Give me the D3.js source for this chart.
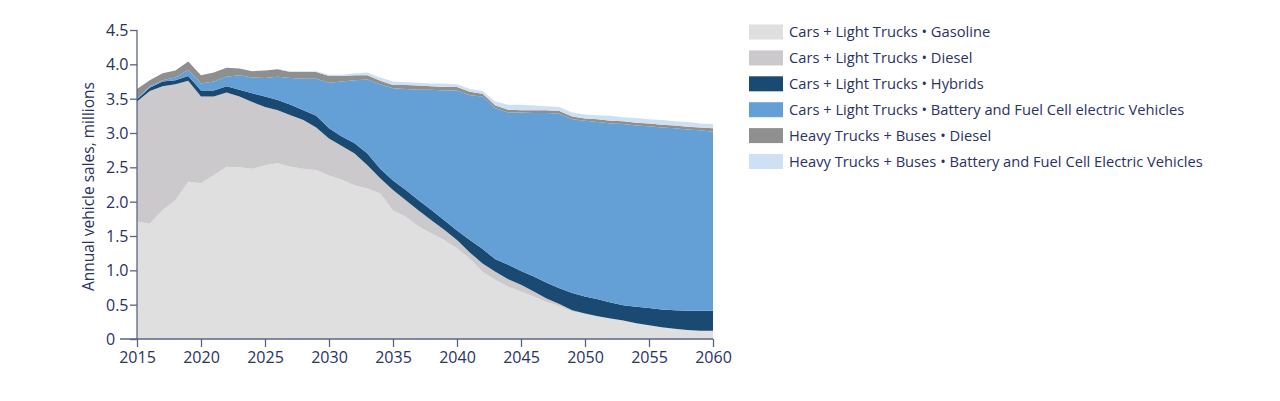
<!DOCTYPE html>
<html>
<head>
  <meta charset="utf-8" />
  <script src="https://d3js.org/d3.v7.min.js"></script>
  <style>
    body { margin: 0; background: #fff; font-family: "Open Sans", sans-serif; }
    svg { display: block; }
    .tick text { fill: #2b3262; font-size: 16px; font-family: "Open Sans", sans-serif; }
    .legend text { fill: #2b3262; font-size: 14.7px; }
  </style>
</head>
<body>
<svg width="1280" height="401"></svg>
<script>
  const years = d3.range(2015, 2061);

  // values per series, millions of vehicles
  const gasoline = [1.71, 1.68, 1.88, 2.02, 2.29, 2.27, 2.39, 2.51, 2.50, 2.48,
    2.53, 2.56, 2.51, 2.48, 2.46, 2.38, 2.32, 2.24, 2.19, 2.12,
    1.87, 1.78, 1.64, 1.54, 1.44, 1.32, 1.17, 0.98, 0.86, 0.76,
    0.69, 0.62, 0.54, 0.48, 0.40, 0.37, 0.33, 0.30, 0.27, 0.23,
    0.20, 0.17, 0.15, 0.13, 0.12, 0.12];
  const diesel = [1.75, 1.93, 1.80, 1.69, 1.47, 1.26, 1.14, 1.08, 1.03, 0.97,
    0.85, 0.77, 0.75, 0.71, 0.62, 0.54, 0.49, 0.46, 0.34, 0.22,
    0.30, 0.24, 0.23, 0.19, 0.15, 0.12, 0.09, 0.12, 0.12, 0.11,
    0.10, 0.07, 0.05, 0.03, 0.02, 0, 0, 0, 0, 0,
    0, 0, 0, 0, 0, 0];
  const hybrids = [0.03, 0.05, 0.07, 0.06, 0.07, 0.09, 0.09, 0.09, 0.10, 0.13,
    0.15, 0.15, 0.15, 0.14, 0.17, 0.15, 0.14, 0.15, 0.17, 0.14,
    0.14, 0.15, 0.15, 0.15, 0.14, 0.14, 0.18, 0.21, 0.18, 0.21,
    0.20, 0.22, 0.23, 0.23, 0.25, 0.25, 0.25, 0.23, 0.22, 0.24,
    0.25, 0.26, 0.27, 0.28, 0.29, 0.29];
  const carsElectric = [0.01, 0.02, 0.02, 0.04, 0.09, 0.10, 0.13, 0.14, 0.21, 0.23,
    0.27, 0.34, 0.39, 0.46, 0.54, 0.66, 0.80, 0.92, 1.08, 1.23,
    1.34, 1.47, 1.61, 1.75, 1.89, 2.04, 2.11, 2.22, 2.20, 2.22,
    2.31, 2.38, 2.47, 2.54, 2.53, 2.56, 2.58, 2.61, 2.64, 2.64,
    2.65, 2.65, 2.65, 2.64, 2.63, 2.61];
  const heavyDiesel = [0.14, 0.09, 0.10, 0.10, 0.12, 0.12, 0.13, 0.13, 0.10, 0.09,
    0.11, 0.11, 0.09, 0.10, 0.10, 0.10, 0.08, 0.07, 0.06, 0.05,
    0.05, 0.06, 0.06, 0.05, 0.05, 0.05, 0.05, 0.04, 0.04, 0.04,
    0.03, 0.04, 0.04, 0.04, 0.04, 0.03, 0.04, 0.04, 0.04, 0.04,
    0.04, 0.04, 0.04, 0.04, 0.04, 0.05];
  const heavyElectric = [0, 0, 0, 0, 0, 0, 0, 0, 0, 0,
    0, 0, 0.01, 0.01, 0.01, 0.02, 0.02, 0.03, 0.04, 0.05,
    0.05, 0.04, 0.04, 0.04, 0.05, 0.04, 0.04, 0.04, 0.06, 0.07,
    0.08, 0.07, 0.06, 0.06, 0.06, 0.06, 0.06, 0.07, 0.06, 0.07,
    0.06, 0.07, 0.06, 0.07, 0.06, 0.06];

  const seriesNames = [
    "Cars + Light Trucks • Gasoline",
    "Cars + Light Trucks • Diesel",
    "Cars + Light Trucks • Hybrids",
    "Cars + Light Trucks • Battery and Fuel Cell electric Vehicles",
    "Heavy Trucks + Buses • Diesel",
    "Heavy Trucks + Buses • Battery and Fuel Cell Electric Vehicles"
  ];
  const seriesValues = [gasoline, diesel, hybrids, carsElectric, heavyDiesel, heavyElectric];
  const colors = ["#dfdfdf", "#cbc9cb", "#1a4a71", "#64a0d6", "#8f8f8f", "#cee1f4"];
  const yTicks = [0, 0.5, 1.0, 1.5, 2.0, 2.5, 3.0, 3.5, 4.0, 4.5];
  const xTicks = [2015, 2020, 2025, 2030, 2035, 2040, 2045, 2050, 2055, 2060];

  const rows = years.map((yr, i) => {
    const r = { year: yr };
    seriesNames.forEach((n, k) => r[n] = seriesValues[k][i]);
    return r;
  });

  const svg = d3.select("svg");
  const x = d3.scaleLinear().domain([2015, 2060]).range([137, 713]);
  const y = d3.scaleLinear().domain([0, 4.5]).range([339, 30]);

  const stacked = d3.stack().keys(seriesNames)(rows);
  const area = d3.area()
    .x(d => x(d.data.year))
    .y0(d => y(d[0]))
    .y1(d => y(d[1]));

  svg.append("g").selectAll("path")
    .data(stacked)
    .join("path")
    .attr("fill", (d, i) => colors[i])
    .attr("d", area);

  const axisColor = "#5d6387";

  // y axis, labels left-aligned like the original
  const yAxis = svg.append("g")
    .attr("transform", "translate(137,0)")
    .call(d3.axisLeft(y).tickValues(yTicks).tickSize(7)
      .tickFormat(d => d === 0 ? "0" : d3.format(".1f")(d)));
  yAxis.selectAll("line").attr("stroke", axisColor).attr("stroke-width", 1.3);
  yAxis.select(".domain").attr("stroke", axisColor).attr("stroke-width", 1.3)
    .attr("d", `M0,${y(4.5)}V${y(0)}`);
  yAxis.selectAll("text")
    .attr("x", -31).attr("dy", "0.35em")
    .attr("text-anchor", "start");

  // x axis
  const xAxis = svg.append("g")
    .attr("transform", "translate(0,339)")
    .call(d3.axisBottom(x).tickValues(xTicks).tickSize(8).tickPadding(5)
      .tickFormat(d3.format("d")));
  xAxis.selectAll("line").attr("stroke", axisColor).attr("stroke-width", 1.3);
  xAxis.select(".domain").attr("stroke", axisColor).attr("stroke-width", 1.3)
    .attr("d", `M120,0H${x(2060)}`);

  svg.append("text")
    .attr("transform", `translate(94,${y(2.22)}) rotate(-90)`)
    .attr("text-anchor", "middle")
    .attr("fill", "#2b3262")
    .style("font-size", "15.5px")
    .text("Annual vehicle sales, millions");

  // legend
  const legend = svg.append("g").attr("class", "legend")
    .selectAll("g")
    .data(seriesNames)
    .join("g")
    .attr("transform", (d, i) => `translate(749,${32 + i * 25.9})`);
  legend.append("rect")
    .attr("x", 0).attr("y", -7.5)
    .attr("width", 34).attr("height", 15)
    .attr("fill", (d, i) => colors[i]);
  legend.append("text")
    .attr("x", 40).attr("dy", "0.35em")
    .text(d => d);
</script>
</body>
</html>
